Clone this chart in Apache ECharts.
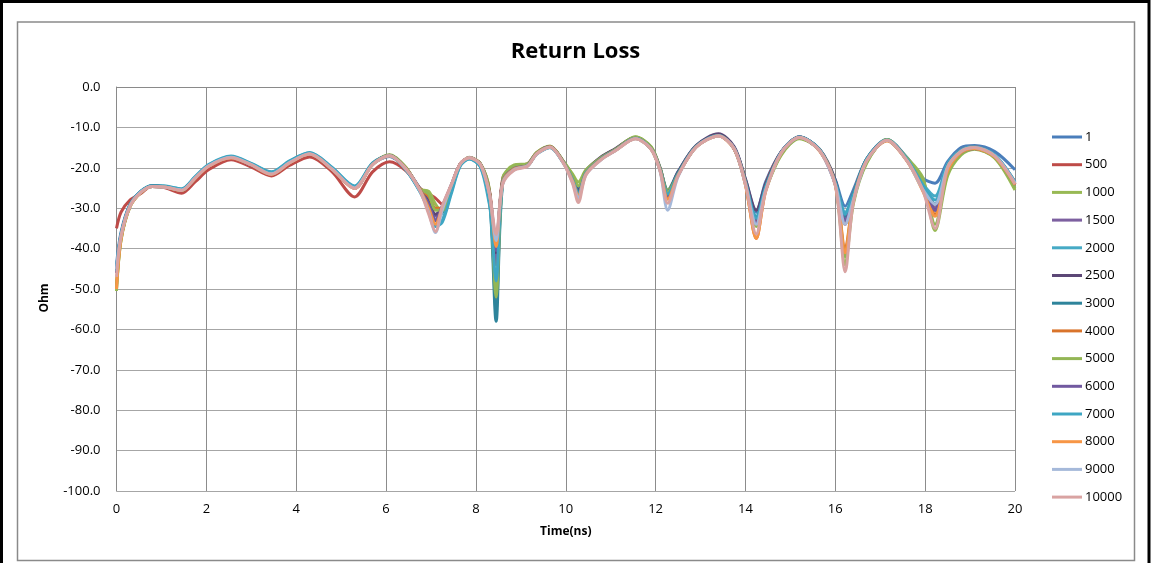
<!DOCTYPE html>
<html>
<head>
<meta charset="utf-8">
<title>Return Loss</title>
<script src="https://cdn.jsdelivr.net/npm/echarts@6/dist/echarts.min.js"></script>
<style>
  html, body { margin: 0; padding: 0; background: #fff; }
  #chart { width: 1151px; height: 563px; }
</style>
</head>
<body>
<div id="chart"></div>
<script>
// Sample times (ns), shared by every trace
const TIME = [
  0, 0.1, 0.3, 0.55, 0.8, 1.1, 1.45, 1.75, 2.05, 2.55,
  3.0, 3.45, 3.85, 4.3, 4.8, 5.3, 5.7, 6.08, 6.45, 6.75,
  6.95, 7.1, 7.25, 7.45, 7.65, 7.85, 8.1, 8.3, 8.45, 8.6,
  8.85, 9.15, 9.35, 9.65, 9.95, 10.15, 10.28, 10.45, 10.8, 11.1,
  11.55, 11.9, 12.1, 12.27, 12.5, 12.9, 13.4, 13.75, 14.0, 14.24,
  14.45, 14.8, 15.2, 15.65, 16.0, 16.22, 16.4, 16.7, 17.15, 17.6,
  17.95, 18.22, 18.5, 18.8, 19.1, 19.55, 20.0
];

const RL_1 = [
  -44, -36, -29, -25.8, -24.5, -24.7, -25.4, -22.4, -19.5, -17.3,
  -19.2, -21.4, -18.6, -16.5, -20.2, -24.8, -19.0, -17.2, -20.5, -25.0,
  -29.0, -33.0, -30.0, -24.5, -19.2, -17.6, -19.0, -26.0, -42.0, -23.5,
  -20.3, -19.2, -16.4, -14.8, -18.5, -22.5, -25.0, -21.0, -17.5, -15.5,
  -12.6, -15.0, -20.2, -25.5, -21.0, -14.6, -11.9, -15.0, -22.8, -31.0,
  -23.5, -16.0, -12.4, -15.5, -23.0, -29.5, -25.5, -17.8, -13.0, -17.5,
  -22.6, -23.8, -18.5, -15.0, -14.5, -16.0, -20.5
];
const RL_500 = [
  -35, -31, -28, -26.3, -24.4, -25.0, -26.3, -23.5, -20.5, -18.0,
  -19.8, -22.0, -19.4, -17.3, -21.0, -27.2, -21.0, -18.5, -20.8, -25.0,
  -26.5, -27.5, -29.0, -24.5, -19.0, -17.6, -19.0, -25.5, -40.0, -22.5,
  -19.5, -19.0, -16.3, -14.8, -18.6, -22.5, -26.0, -21.0, -17.4, -15.4,
  -12.5, -15.2, -20.4, -26.5, -21.2, -14.6, -11.9, -15.2, -23.2, -33.0,
  -24.0, -16.0, -12.4, -15.6, -23.5, -34.0, -26.5, -17.9, -13.1, -18.0,
  -24.5, -30.0, -19.5, -15.6, -14.8, -17.0, -23.5
];
const RL_1000 = [
  -50.5, -38, -29.6, -26.0, -24.5, -24.7, -25.5, -22.5, -19.5, -17.4,
  -19.2, -21.4, -18.7, -16.5, -20.3, -24.9, -19.0, -16.8, -20.0, -25.3,
  -25.8, -29.0, -31.0, -25.0, -19.2, -17.4, -19.0, -25.5, -55.0, -22.5,
  -19.3, -19.0, -16.2, -14.6, -18.4, -21.5, -23.5, -20.5, -17.3, -15.4,
  -12.3, -14.8, -20.0, -25.5, -21.5, -14.8, -12.0, -15.2, -23.5, -34.0,
  -25.5, -16.8, -12.8, -15.6, -24.0, -44.0, -29.0, -18.8, -13.0, -17.6,
  -22.5, -35.5, -22.0, -16.8, -15.4, -17.6, -25.5
];
const RL_1500 = [
  -46, -37, -29.4, -25.9, -24.6, -24.8, -25.5, -22.5, -19.5, -17.4,
  -19.3, -21.5, -18.7, -16.5, -20.3, -25.0, -19.1, -17.0, -20.3, -25.4,
  -28.0, -32.0, -30.0, -24.4, -19.1, -17.5, -19.1, -26.0, -44.0, -23.0,
  -20.0, -19.4, -16.5, -14.8, -18.7, -22.8, -26.0, -21.2, -17.6, -15.6,
  -12.6, -15.2, -20.5, -26.5, -21.5, -14.8, -12.0, -15.2, -23.5, -32.5,
  -24.5, -16.1, -12.5, -15.6, -23.8, -32.0, -27.0, -18.0, -13.2, -18.2,
  -25.0, -30.0, -20.0, -16.2, -15.2, -17.3, -24.0
];
const RL_2000 = [
  -45, -36.5, -29.2, -25.7, -24.4, -24.5, -25.2, -22.2, -19.2, -17.1,
  -18.9, -21.0, -18.3, -16.2, -19.9, -24.5, -18.8, -17.0, -20.6, -25.8,
  -30.0, -34.0, -33.0, -26.0, -19.5, -17.8, -19.8, -29.0, -38.0, -23.5,
  -20.4, -19.5, -16.6, -15.0, -18.8, -22.5, -26.0, -21.0, -17.6, -15.6,
  -12.7, -15.3, -20.4, -26.0, -21.5, -14.7, -12.0, -15.3, -23.5, -32.0,
  -24.5, -16.1, -12.4, -15.5, -23.5, -31.0, -26.5, -17.8, -13.0, -17.8,
  -24.0, -27.0, -19.0, -15.6, -14.8, -16.8, -23.5
];
const RL_2500 = [
  -46, -37, -29.4, -25.9, -24.5, -24.8, -25.5, -22.5, -19.5, -17.4,
  -19.3, -21.5, -18.7, -16.5, -20.3, -25.0, -19.0, -16.9, -20.2, -25.2,
  -28.5, -31.5, -30.0, -24.5, -19.1, -17.5, -19.1, -26.0, -41.0, -23.0,
  -19.8, -19.2, -16.4, -14.7, -18.6, -22.5, -25.5, -20.8, -17.2, -15.3,
  -12.5, -15.0, -20.0, -26.0, -21.0, -14.5, -11.6, -14.8, -22.8, -30.5,
  -24.0, -16.0, -12.4, -15.4, -23.0, -33.0, -27.0, -17.9, -13.1, -18.0,
  -25.0, -30.5, -21.0, -16.4, -15.2, -17.2, -24.0
];
const RL_3000 = [
  -45, -36.5, -29.3, -25.8, -24.5, -24.7, -25.4, -22.4, -19.4, -17.3,
  -19.1, -21.3, -18.5, -16.4, -20.1, -24.8, -19.0, -17.0, -20.5, -25.6,
  -29.0, -33.0, -31.0, -25.0, -19.3, -17.6, -19.4, -27.0, -58.0, -23.5,
  -20.2, -19.4, -16.5, -14.9, -18.7, -22.8, -26.0, -21.2, -17.6, -15.6,
  -12.7, -15.2, -20.3, -26.0, -21.3, -14.7, -12.0, -15.2, -23.5, -32.5,
  -24.5, -16.1, -12.5, -15.5, -23.5, -32.0, -26.5, -17.8, -13.1, -18.0,
  -24.5, -29.0, -19.5, -15.8, -15.0, -17.0, -23.8
];
const RL_4000 = [
  -49, -37.5, -29.5, -26, -24.6, -24.8, -25.6, -22.6, -19.6, -17.5,
  -19.3, -21.6, -18.8, -16.6, -20.4, -25.1, -19.2, -17.0, -20.2, -25.3,
  -27.0, -30.0, -30.0, -24.5, -19.1, -17.5, -19.1, -26.0, -40.0, -23.2,
  -20.0, -19.4, -16.5, -14.8, -18.7, -23.0, -27.0, -21.3, -17.7, -15.7,
  -12.7, -15.3, -20.6, -27.5, -21.8, -14.9, -12.1, -15.4, -24.2, -37.5,
  -25.5, -16.3, -12.5, -15.8, -24.2, -40.0, -28.0, -18.2, -13.3, -18.3,
  -25.5, -31.5, -20.5, -16.2, -15.2, -17.3, -24.2
];
const RL_5000 = [
  -50, -37.8, -29.6, -26.0, -24.6, -24.8, -25.6, -22.5, -19.5, -17.4,
  -19.2, -21.5, -18.7, -16.5, -20.3, -25.0, -19.1, -16.9, -20.1, -25.2,
  -26.5, -30.5, -30.5, -24.8, -19.2, -17.5, -19.0, -25.8, -52.0, -22.8,
  -19.5, -19.1, -16.3, -14.7, -18.5, -21.8, -24.5, -20.7, -17.4, -15.5,
  -12.4, -14.9, -20.2, -26.0, -21.6, -14.8, -12.0, -15.2, -23.5, -34.5,
  -25.5, -16.6, -12.7, -15.6, -24.0, -42.0, -28.5, -18.6, -13.0, -17.8,
  -23.0, -34.0, -21.5, -16.6, -15.3, -17.5, -25.0
];
const RL_6000 = [
  -46, -37, -29.4, -25.9, -24.6, -24.8, -25.5, -22.5, -19.5, -17.4,
  -19.3, -21.5, -18.7, -16.5, -20.3, -25.0, -19.1, -17.0, -20.3, -25.4,
  -29.0, -33.0, -29.5, -24.3, -19.1, -17.5, -19.1, -26.2, -40.5, -23.3,
  -20.2, -19.4, -16.5, -14.8, -18.7, -23.0, -26.5, -21.3, -17.7, -15.7,
  -12.7, -15.3, -20.6, -27.0, -21.8, -14.8, -12.0, -15.3, -23.8, -33.5,
  -25.0, -16.2, -12.5, -15.7, -24.0, -33.0, -27.5, -18.1, -13.2, -18.2,
  -25.2, -30.5, -20.5, -16.2, -15.2, -17.2, -24.2
];
const RL_7000 = [
  -45.5, -36.8, -29.3, -25.8, -24.5, -24.6, -25.3, -22.3, -19.3, -17.2,
  -19.0, -21.1, -18.4, -16.3, -20.0, -24.6, -18.9, -17.0, -20.6, -25.8,
  -30.5, -34.5, -33.5, -26.5, -19.6, -17.8, -19.7, -28.5, -48.0, -23.5,
  -20.4, -19.5, -16.6, -15.0, -18.8, -22.8, -26.5, -21.2, -17.7, -15.7,
  -12.7, -15.3, -20.5, -26.5, -21.6, -14.7, -12.0, -15.3, -23.6, -32.5,
  -24.8, -16.1, -12.4, -15.5, -23.6, -31.5, -26.8, -17.9, -13.1, -17.9,
  -24.2, -28.0, -19.5, -15.7, -14.9, -16.9, -23.6
];
const RL_8000 = [
  -50, -37.8, -29.6, -26.0, -24.6, -24.8, -25.6, -22.6, -19.6, -17.5,
  -19.3, -21.6, -18.8, -16.6, -20.4, -25.1, -19.2, -17.0, -20.3, -25.4,
  -30.0, -34.0, -30.0, -24.4, -19.1, -17.5, -19.1, -26.2, -39.5, -23.5,
  -20.3, -19.5, -16.5, -14.8, -18.8, -23.2, -27.0, -21.5, -17.8, -15.8,
  -12.8, -15.4, -20.7, -27.8, -21.9, -14.9, -12.1, -15.4, -24.2, -37.5,
  -25.8, -16.3, -12.5, -15.8, -24.3, -41.0, -28.3, -18.2, -13.3, -18.4,
  -25.8, -32.0, -20.8, -16.2, -15.2, -17.3, -24.2
];
const RL_9000 = [
  -45, -36.8, -29.4, -25.9, -24.6, -24.8, -25.5, -22.5, -19.5, -17.4,
  -19.2, -21.5, -18.7, -16.5, -20.3, -25.0, -19.2, -17.0, -20.4, -25.6,
  -31.0, -36.0, -30.5, -24.4, -19.1, -17.5, -19.2, -26.4, -38.0, -23.8,
  -20.5, -19.5, -16.6, -14.9, -18.9, -23.6, -27.5, -21.7, -17.9, -15.8,
  -12.8, -15.4, -20.9, -30.5, -22.2, -14.9, -12.1, -15.3, -24.0, -34.0,
  -25.5, -16.2, -12.5, -15.7, -24.2, -34.0, -28.0, -18.2, -13.2, -18.3,
  -25.4, -29.0, -19.8, -15.9, -15.0, -17.0, -23.8
];
const RL_10000 = [
  -47, -37, -29.5, -26, -24.6, -24.8, -25.6, -22.6, -19.6, -17.5,
  -19.3, -21.6, -18.8, -16.6, -20.4, -25.1, -19.2, -17.0, -20.4, -25.5,
  -31.5, -35.8, -29.5, -24.2, -19.0, -17.5, -19.2, -26.5, -36.5, -24.0,
  -20.6, -19.6, -16.6, -14.9, -18.9, -23.8, -28.6, -21.8, -17.9, -15.8,
  -12.8, -15.4, -20.8, -28.8, -22.0, -14.9, -12.1, -15.3, -24.0, -36.4,
  -25.8, -16.2, -12.5, -15.7, -24.3, -45.7, -28.7, -18.2, -13.2, -18.3,
  -25.6, -35.0, -19.9, -15.9, -15.0, -17.1, -24.0
];

const SERIES_NAMES = ['1', '500', '1000', '1500', '2000', '2500', '3000',
  '4000', '5000', '6000', '7000', '8000', '9000', '10000'];
const SERIES_VALUES = [RL_1, RL_500, RL_1000, RL_1500, RL_2000, RL_2500, RL_3000,
  RL_4000, RL_5000, RL_6000, RL_7000, RL_8000, RL_9000, RL_10000];
const SERIES_COLORS = ['#4a7ebb', '#be4b48', '#98b954', '#7d60a0', '#46aac5', '#5c4776', '#2e849b',
  '#d9742b', '#93b655', '#7159a0', '#3ea6c3', '#f79646', '#a5b9da', '#d9a3a2'];

const FONT = '"Open Sans", "Noto Sans", sans-serif';

const chart = echarts.init(document.getElementById('chart'), null, { renderer: 'canvas' });

const series = SERIES_NAMES.map((name, i) => ({
  name,
  type: 'line',
  data: TIME.map((t, k) => [t, SERIES_VALUES[i][k]]),
  showSymbol: false,
  smooth: 0.3,
  lineStyle: { width: 3, color: SERIES_COLORS[i] },
  itemStyle: { color: SERIES_COLORS[i] },
  emphasis: { disabled: true },
  z: 2 + i
}));

chart.setOption({
  animation: false,
  backgroundColor: '#ffffff',
  title: {
    text: 'Return Loss',
    left: 'center',
    top: 36,
    textStyle: { fontFamily: FONT, fontSize: 22, fontWeight: 'bold', color: '#000' }
  },
  graphic: [
    // outer black frame
    { type: 'rect', shape: { x: 1.5, y: 1.5, width: 1147.5, height: 580 },
      style: { fill: null, stroke: '#000', lineWidth: 3 }, silent: true },
    // chart area border
    { type: 'rect', shape: { x: 17.5, y: 22, width: 1117, height: 538.5 },
      style: { fill: null, stroke: '#8a8a8a', lineWidth: 1.5 }, silent: true },
    // y axis title
    { type: 'text', x: 45, y: 298, rotation: Math.PI / 2,
      style: { text: 'Ohm', fontFamily: FONT, fontSize: 12, fontWeight: 'bold', fill: '#000',
               align: 'center', verticalAlign: 'middle' }, silent: true }
  ],
  legend: {
    orient: 'vertical',
    left: 1047,
    top: 124,
    itemWidth: 30,
    itemHeight: 3,
    itemGap: 11.7,
    icon: 'rect',
    textStyle: { fontFamily: FONT, fontSize: 13, color: '#000', lineHeight: 16, padding: [0, 0, 0, -2] },
    data: SERIES_NAMES
  },
  grid: { left: 116.5, right: 136, top: 87, bottom: 72, containLabel: false },
  xAxis: {
    type: 'value',
    min: 0, max: 20, interval: 2,
    name: 'Time(ns)',
    nameLocation: 'middle',
    nameGap: 35,
    nameTextStyle: { fontFamily: FONT, fontSize: 12, fontWeight: 'bold', color: '#000' },
    axisLine: { show: true, lineStyle: { color: '#8a8a8a', width: 1 } },
    axisTick: { show: false },
    axisLabel: { fontFamily: FONT, fontSize: 13, color: '#000', margin: 12 },
    splitLine: { show: true, lineStyle: { color: '#8c8c8c', width: 1 } }
  },
  yAxis: {
    type: 'value',
    min: -100, max: 0, interval: 10,
    axisLine: { show: true, lineStyle: { color: '#8a8a8a', width: 1 } },
    axisTick: { show: false },
    axisLabel: { fontFamily: FONT, fontSize: 13, color: '#000', margin: 16,
                 formatter: v => v.toFixed(1) },
    splitLine: { show: true, lineStyle: { color: '#a6a6a6', width: 1 } }
  },
  series
});
</script>
</body>
</html>
